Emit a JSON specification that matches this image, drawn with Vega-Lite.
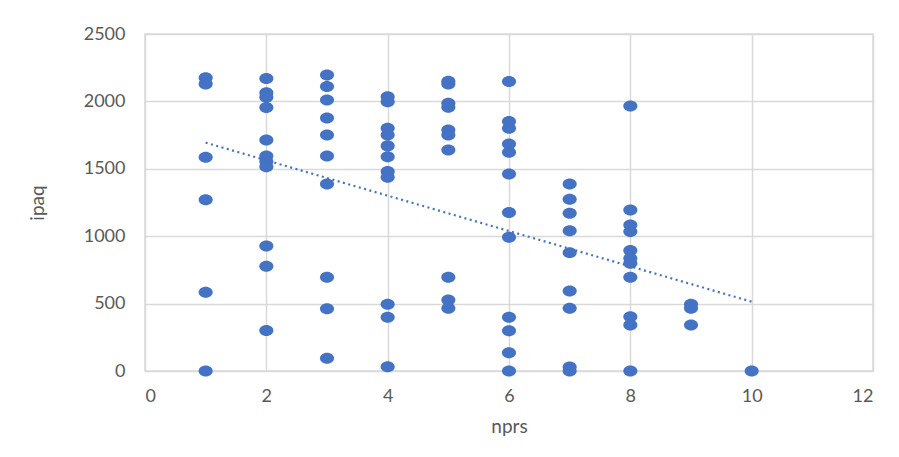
{
  "$schema": "https://vega.github.io/schema/vega-lite/v6.json",
  "width": 728,
  "height": 337,
  "autosize": "none",
  "padding": {"left": 145, "top": 34, "right": 26, "bottom": 86},
  "background": "white",
  "datasets": {
    "points": [
      {"npers": 1, "ipaq": 2175}, {"npers": 1, "ipaq": 2130}, {"npers": 1, "ipaq": 1585}, {"npers": 1, "ipaq": 1270}, {"npers": 1, "ipaq": 585}, {"npers": 1, "ipaq": 0},
      {"npers": 2, "ipaq": 2170}, {"npers": 2, "ipaq": 2065}, {"npers": 2, "ipaq": 2030}, {"npers": 2, "ipaq": 1955}, {"npers": 2, "ipaq": 1714}, {"npers": 2, "ipaq": 1595}, {"npers": 2, "ipaq": 1555}, {"npers": 2, "ipaq": 1516}, {"npers": 2, "ipaq": 927}, {"npers": 2, "ipaq": 777}, {"npers": 2, "ipaq": 300},
      {"npers": 3, "ipaq": 2195}, {"npers": 3, "ipaq": 2110}, {"npers": 3, "ipaq": 2010}, {"npers": 3, "ipaq": 1877}, {"npers": 3, "ipaq": 1751}, {"npers": 3, "ipaq": 1595}, {"npers": 3, "ipaq": 1388}, {"npers": 3, "ipaq": 695}, {"npers": 3, "ipaq": 462}, {"npers": 3, "ipaq": 94},
      {"npers": 4, "ipaq": 2035}, {"npers": 4, "ipaq": 1998}, {"npers": 4, "ipaq": 1801}, {"npers": 4, "ipaq": 1751}, {"npers": 4, "ipaq": 1670}, {"npers": 4, "ipaq": 1590}, {"npers": 4, "ipaq": 1479}, {"npers": 4, "ipaq": 1437}, {"npers": 4, "ipaq": 495}, {"npers": 4, "ipaq": 398}, {"npers": 4, "ipaq": 32},
      {"npers": 5, "ipaq": 2150}, {"npers": 5, "ipaq": 2130}, {"npers": 5, "ipaq": 1986}, {"npers": 5, "ipaq": 1957}, {"npers": 5, "ipaq": 1788}, {"npers": 5, "ipaq": 1751}, {"npers": 5, "ipaq": 1640}, {"npers": 5, "ipaq": 695}, {"npers": 5, "ipaq": 527}, {"npers": 5, "ipaq": 465},
      {"npers": 6, "ipaq": 2147}, {"npers": 6, "ipaq": 1850}, {"npers": 6, "ipaq": 1801}, {"npers": 6, "ipaq": 1684}, {"npers": 6, "ipaq": 1623}, {"npers": 6, "ipaq": 1462}, {"npers": 6, "ipaq": 1175}, {"npers": 6, "ipaq": 992}, {"npers": 6, "ipaq": 398}, {"npers": 6, "ipaq": 299}, {"npers": 6, "ipaq": 136}, {"npers": 6, "ipaq": 0},
      {"npers": 7, "ipaq": 1388}, {"npers": 7, "ipaq": 1274}, {"npers": 7, "ipaq": 1170}, {"npers": 7, "ipaq": 1041}, {"npers": 7, "ipaq": 878}, {"npers": 7, "ipaq": 594}, {"npers": 7, "ipaq": 465}, {"npers": 7, "ipaq": 30}, {"npers": 7, "ipaq": 0},
      {"npers": 8, "ipaq": 1966}, {"npers": 8, "ipaq": 1195}, {"npers": 8, "ipaq": 1083}, {"npers": 8, "ipaq": 1034}, {"npers": 8, "ipaq": 893}, {"npers": 8, "ipaq": 836}, {"npers": 8, "ipaq": 799}, {"npers": 8, "ipaq": 695}, {"npers": 8, "ipaq": 403}, {"npers": 8, "ipaq": 341}, {"npers": 8, "ipaq": 0},
      {"npers": 9, "ipaq": 495}, {"npers": 9, "ipaq": 465}, {"npers": 9, "ipaq": 341},
      {"npers": 10, "ipaq": 0}
    ],
    "trend": [
      {"npers": 1, "ipaq": 1694},
      {"npers": 10, "ipaq": 514}
    ]
  },
  "config": {
    "font": "Lato",
    "view": {"stroke": "#d9d9d9", "strokeWidth": 1.5},
    "axis": {
      "grid": true,
      "gridColor": "#d9d9d9",
      "gridWidth": 1.5,
      "ticks": false,
      "domain": false,
      "labelFont": "Lato",
      "labelFontSize": 18,
      "labelColor": "#595959",
      "titleFont": "Lato",
      "titleFontSize": 19,
      "titleFontWeight": "normal",
      "titleColor": "#595959"
    }
  },
  "layer": [
    {
      "data": {"name": "points"},
      "mark": {"type": "point", "shape": "M-1.15,0 A1.15,0.9 0 1,0 1.15,0 A1.15,0.9 0 1,0 -1.15,0 Z", "filled": true, "size": 150, "color": "#4472C4", "opacity": 1},
      "encoding": {
        "x": {"field": "npers", "type": "quantitative", "scale": {"domain": [0, 12], "nice": false, "zero": true},
              "axis": {"title": "nprs", "format": "d", "values": [0, 2, 4, 6, 8, 10, 12], "labelPadding": 16, "titlePadding": 12}},
        "y": {"field": "ipaq", "type": "quantitative", "scale": {"domain": [0, 2500], "nice": false},
              "axis": {"title": "ipaq", "format": "d", "values": [0, 500, 1000, 1500, 2000, 2500], "labelPadding": 20, "titlePadding": 36}}
      }
    },
    {
      "data": {"name": "trend"},
      "mark": {"type": "line", "color": "#4472C4", "strokeWidth": 2.2, "strokeDash": [2, 3.5]},
      "encoding": {
        "x": {"field": "npers", "type": "quantitative"},
        "y": {"field": "ipaq", "type": "quantitative"}
      }
    }
  ]
}
